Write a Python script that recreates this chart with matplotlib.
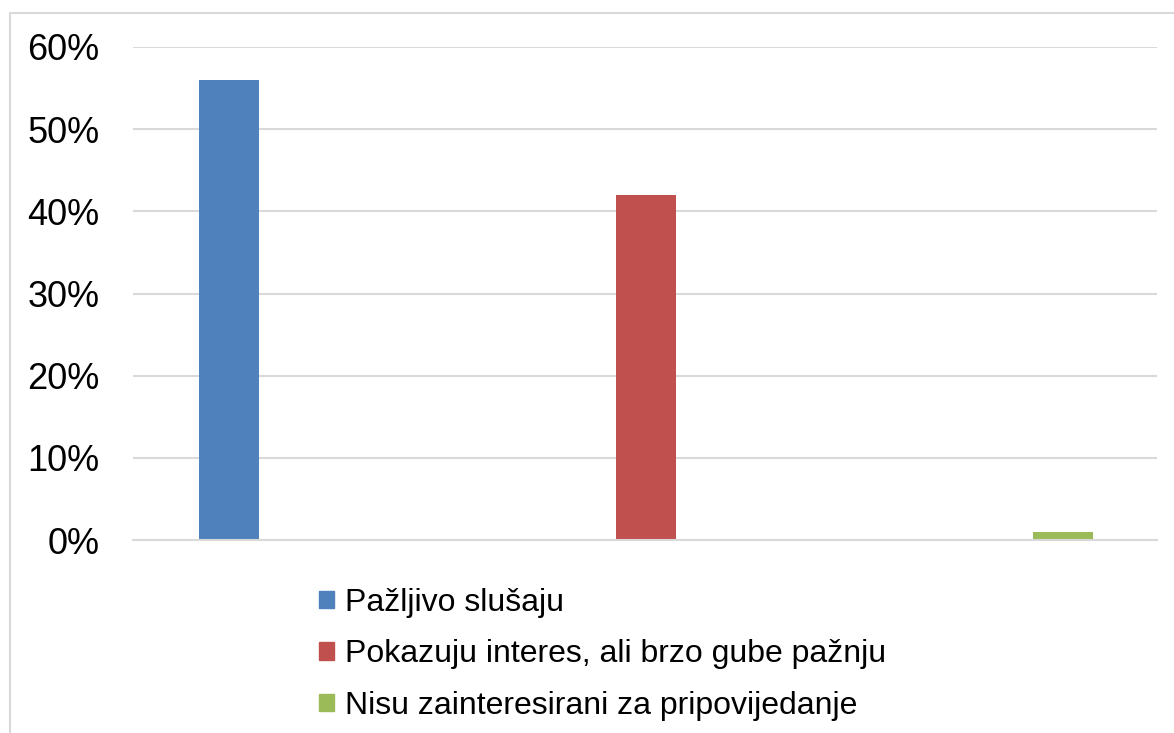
import numpy as np
import matplotlib.pyplot as plt
from matplotlib.patches import Rectangle

# data
labels = ['Pažljivo slušaju', 'Pokazuju interes, ali brzo gube pažnju', 'Nisu zainteresirani za pripovijedanje']
values = [0.56, 0.42, 0.01]
colors = ['#4F81BD', '#C0504D', '#9BBB59']
yticks = [0, 0.1, 0.2, 0.3, 0.4, 0.5, 0.6]
ytick_labels = ['0%', '10%', '20%', '30%', '40%', '50%', '60%']

plt.rcParams['font.family'] = ['Liberation Sans', 'DejaVu Sans']

W, H = 1174, 733
fig = plt.figure(figsize=(W/100, H/100), dpi=100)
ax = fig.add_axes([133/W, (H-540)/H, (1157-133)/W, (540-47)/H])

x = np.arange(len(values))
for i in range(len(values)):
    ax.bar(x[i], values[i], width=0.144, color=colors[i], label=labels[i], zorder=3)

ax.set_xlim(-0.23, 2.225)
ax.set_ylim(0, 0.6)
ax.set_yticks(yticks)
ax.set_yticklabels(ytick_labels, fontsize=26)
ax.set_xticks([])
ax.tick_params(axis='y', length=0, pad=24)
ax.grid(axis='y', color='#d9d9d9', linewidth=1.5, zorder=0)
for s in ['top', 'right', 'left']:
    ax.spines[s].set_visible(False)
ax.spines['bottom'].set_color('#d9d9d9')
ax.spines['bottom'].set_linewidth(1.5)
ax.spines['bottom'].set_zorder(4)

# outer frame (cut off at right and bottom in original)
fig.patches.append(Rectangle((10/W, -0.1), 1.2, (H-13)/H + 0.1, transform=fig.transFigure,
                             fill=False, edgecolor='#d9d9d9', linewidth=1.5))

handles = [Rectangle((0, 0), 1, 1, color=c) for c in colors]
fig.legend(handles, labels, loc='upper left', bbox_to_anchor=(319/W, (H-588)/H),
           frameon=False, fontsize=23, handlelength=0.47, handleheight=0.47,
           handletextpad=0.34, labelspacing=0.67, borderpad=0, borderaxespad=0)

plt.savefig('out.png', dpi=100)
